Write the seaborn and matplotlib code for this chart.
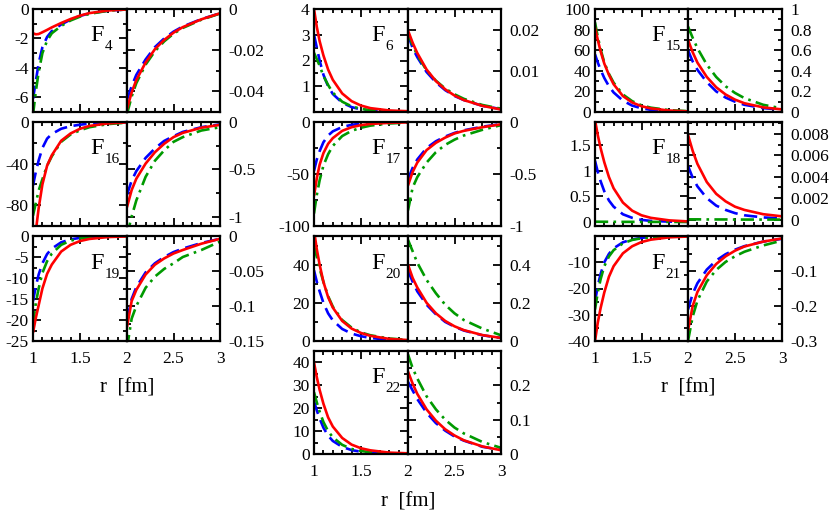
import numpy as np
import pandas as pd
import matplotlib
matplotlib.use('Agg')
import matplotlib.pyplot as plt
import seaborn as sns
from matplotlib.ticker import MultipleLocator, FixedLocator

sns.set_style('ticks')
plt.rcParams['font.family'] = ['Liberation Serif', 'DejaVu Serif']
for k in ['text.color', 'axes.labelcolor', 'xtick.color', 'ytick.color', 'axes.edgecolor']:
    plt.rcParams[k] = 'black'

# ---------------- data ----------------
r_left = [1.0, 1.03, 1.06, 1.1, 1.15, 1.2, 1.3, 1.4, 1.5, 1.6, 1.8, 2.0]
r_right = [2.0, 2.05, 2.1, 2.2, 2.3, 2.4, 2.5, 2.6, 2.8, 3.0]

# F4
f4_l_blue = [-6.1, -4.9, -3.7, -2.6, -1.9, -1.5, -1.05, -0.72, -0.47, -0.3, -0.11, -0.03]
f4_l_green = [-7.2, -5.6, -4.3, -3.0, -2.15, -1.65, -1.15, -0.78, -0.52, -0.33, -0.12, -0.03]
f4_l_red = [-1.65, -1.72, -1.70, -1.58, -1.42, -1.25, -0.95, -0.68, -0.45, -0.28, -0.1, -0.03]
f4_r_blue = [-0.044, -0.0375, -0.032, -0.0245, -0.0185, -0.0143, -0.011, -0.0085, -0.0049, -0.0021]
f4_r_green = [-0.051, -0.0425, -0.036, -0.027, -0.0205, -0.0157, -0.012, -0.0092, -0.0052, -0.0022]
f4_r_red = [-0.0485, -0.0405, -0.0345, -0.026, -0.0195, -0.015, -0.0115, -0.0088, -0.005, -0.0021]

# F16
f16_l_blue = [-61, -48, -37, -25, -16, -11.5, -6.5, -4, -2.6, -1.6, -0.6, -0.2]
f16_l_green = [-90, -78, -66, -55, -42, -33, -19, -12, -8, -5, -2, -0.6]
f16_l_red = [-125, -105, -83, -60, -42, -32, -18, -11, -6.5, -3.8, -1.3, -0.4]
f16_r_blue = [-0.77, -0.62, -0.52, -0.38, -0.28, -0.2, -0.15, -0.105, -0.055, -0.025]
f16_r_green = [-1.2, -1.0, -0.83, -0.58, -0.41, -0.3, -0.21, -0.16, -0.09, -0.055]
f16_r_red = [-0.9, -0.72, -0.6, -0.44, -0.32, -0.23, -0.16, -0.115, -0.06, -0.03]

# F19
f19_l_blue = [-15.5, -12, -9.2, -6.5, -4.3, -3.0, -1.5, -0.8, -0.45, -0.25, -0.08, -0.03]
f19_l_green = [-21, -16, -12.5, -8.8, -6, -4.2, -2.1, -1.1, -0.6, -0.35, -0.1, -0.04]
f19_l_red = [-23, -19.5, -16.5, -12.5, -9, -6.8, -3.7, -2.1, -1.2, -0.7, -0.25, -0.1]
f19_r_blue = [-0.12, -0.09, -0.073, -0.052, -0.039, -0.03, -0.023, -0.018, -0.01, -0.004]
f19_r_green = [-0.16, -0.118, -0.1, -0.074, -0.058, -0.047, -0.039, -0.03, -0.02, -0.008]
f19_r_red = [-0.13, -0.093, -0.077, -0.055, -0.041, -0.032, -0.025, -0.02, -0.011, -0.004]

# F6
f6_l_blue = [3.0, 2.5, 2.0, 1.45, 1.0, 0.7, 0.36, 0.19, 0.1, 0.06, 0.02, 0.01]
f6_l_green = [2.3, 2.05, 1.8, 1.4, 1.05, 0.75, 0.4, 0.22, 0.12, 0.07, 0.025, 0.01]
f6_l_red = [4.0, 3.3, 2.75, 2.2, 1.65, 1.25, 0.72, 0.42, 0.25, 0.15, 0.06, 0.03]
f6_r_blue = [0.0188, 0.0155, 0.0133, 0.0097, 0.0072, 0.0053, 0.0039, 0.0029, 0.0015, 0.0007]
f6_r_green = [0.0192, 0.0162, 0.0138, 0.0101, 0.0076, 0.0057, 0.0043, 0.0032, 0.0017, 0.0008]
f6_r_red = [0.0198, 0.0168, 0.0143, 0.0103, 0.0075, 0.0055, 0.004, 0.0029, 0.0015, 0.0006]

# F17
f17_l_blue = [-47, -36, -28, -19.5, -13, -9, -4.8, -2.7, -1.6, -1.0, -0.4, -0.2]
f17_l_green = [-88, -70, -56, -42, -31, -23, -13.5, -8.5, -5.5, -3.5, -1.4, -0.6]
f17_l_red = [-71, -54, -41, -30, -21, -15.5, -8.5, -5, -3, -1.9, -0.8, -0.4]
f17_r_blue = [-0.55, -0.44, -0.36, -0.25, -0.185, -0.14, -0.105, -0.08, -0.045, -0.02]
f17_r_green = [-0.85, -0.63, -0.53, -0.39, -0.29, -0.22, -0.17, -0.13, -0.075, -0.03]
f17_r_red = [-0.61, -0.48, -0.39, -0.27, -0.2, -0.15, -0.11, -0.085, -0.05, -0.022]

# F20
f20_l_blue = [37, 31, 26, 20, 14.5, 10.8, 6.3, 3.9, 2.5, 1.6, 0.6, 0.25]
f20_l_green = [50, 44, 38, 31, 23.5, 18, 11, 7, 4.5, 3, 1.3, 0.6]
f20_l_red = [58, 48, 40, 31, 23, 17.5, 10.5, 6.5, 4.2, 2.7, 1.1, 0.5]
f20_r_blue = [0.37, 0.31, 0.26, 0.19, 0.14, 0.1, 0.075, 0.055, 0.03, 0.016]
f20_r_green = [0.53, 0.47, 0.41, 0.32, 0.25, 0.19, 0.145, 0.11, 0.065, 0.03]
f20_r_red = [0.40, 0.33, 0.28, 0.2, 0.145, 0.105, 0.077, 0.057, 0.031, 0.016]

# F22
f22_l_blue = [23, 19, 15.5, 11.5, 8, 5.7, 3.1, 1.7, 1.0, 0.6, 0.2, 0.1]
f22_l_green = [27, 22.5, 18.5, 14, 10, 7.3, 4, 2.2, 1.3, 0.8, 0.3, 0.12]
f22_l_red = [40, 33.5, 28, 22, 16, 12, 7, 4.1, 2.5, 1.6, 0.6, 0.3]
f22_r_blue = [0.21, 0.185, 0.16, 0.12, 0.09, 0.068, 0.051, 0.039, 0.021, 0.012]
f22_r_green = [0.29, 0.25, 0.22, 0.168, 0.13, 0.1, 0.077, 0.06, 0.035, 0.018]
f22_r_red = [0.24, 0.205, 0.175, 0.13, 0.097, 0.072, 0.054, 0.04, 0.022, 0.011]

# F15
f15_l_blue = [56, 48, 41, 33, 25, 19, 11, 6.2, 3.6, 2.1, 0.8, 0.3]
f15_l_green = [87, 73, 61, 48, 37, 28.5, 17, 10.5, 6.5, 4.2, 1.8, 0.8]
f15_l_red = [82, 70, 59, 47, 36, 27, 15.5, 9.2, 5.6, 3.5, 1.4, 0.6]
f15_r_blue = [0.60, 0.49, 0.41, 0.29, 0.2, 0.14, 0.1, 0.07, 0.038, 0.022]
f15_r_green = [0.83, 0.72, 0.62, 0.46, 0.34, 0.25, 0.185, 0.135, 0.07, 0.035]
f15_r_red = [0.70, 0.58, 0.48, 0.34, 0.24, 0.17, 0.12, 0.085, 0.045, 0.025]

# F18
f18_l_blue = [1.2, 0.98, 0.8, 0.6, 0.42, 0.3, 0.15, 0.08, 0.04, 0.02, 0.006, 0.002]
f18_l_green = [0.004, 0.004, 0.003, 0.003, 0.002, 0.002, 0.001, 0.001, 0.0, 0.0, 0.0, 0.0]
f18_l_red = [2.0, 1.7, 1.45, 1.17, 0.88, 0.66, 0.38, 0.22, 0.13, 0.08, 0.03, 0.01]
f18_r_blue = [0.0050, 0.0039, 0.0031, 0.002, 0.0013, 0.0009, 0.0006, 0.0004, 0.0002, 0.0001]
f18_r_green = [0.00002, 0.00002, 0.00002, 0.00001, 0.00001, 0.00001, 0.0, 0.0, 0.0, 0.0]
f18_r_red = [0.0079, 0.0064, 0.0052, 0.0035, 0.0024, 0.0017, 0.0012, 0.0009, 0.0005, 0.0003]

# F21
f21_l_blue = [-25, -19, -14.5, -10, -6.8, -4.7, -2.4, -1.3, -0.7, -0.4, -0.12, -0.04]
f21_l_green = [-28, -21.5, -16.5, -11.5, -7.8, -5.4, -2.8, -1.5, -0.85, -0.5, -0.15, -0.05]
f21_l_red = [-40, -33, -27.5, -21.5, -15.5, -11.5, -6.6, -3.9, -2.3, -1.4, -0.5, -0.2]
f21_r_blue = [-0.21, -0.165, -0.135, -0.096, -0.07, -0.052, -0.039, -0.029, -0.016, -0.008]
f21_r_green = [-0.3, -0.23, -0.185, -0.13, -0.097, -0.074, -0.058, -0.045, -0.027, -0.013]
f21_r_red = [-0.27, -0.2, -0.16, -0.112, -0.08, -0.058, -0.042, -0.03, -0.016, -0.007]

# axis tick labels per panel
f4_l_ticks = ['0', '-2', '-4', '-6'];       f4_r_ticks = ['0', '-0.02', '-0.04']
f16_l_ticks = ['0', '-40', '-80'];          f16_r_ticks = ['0', '-0.5', '-1']
f19_l_ticks = ['0', '-5', '-10', '-15', '-20', '-25']; f19_r_ticks = ['0', '-0.05', '-0.1', '-0.15']
f6_l_ticks = ['1', '2', '3', '4'];          f6_r_ticks = ['0.01', '0.02']
f17_l_ticks = ['0', '-50', '-100'];         f17_r_ticks = ['0', '-0.5', '-1']
f20_l_ticks = ['0', '20', '40'];            f20_r_ticks = ['0', '0.2', '0.4']
f22_l_ticks = ['0', '10', '20', '30', '40']; f22_r_ticks = ['0', '0.1', '0.2']
f15_l_ticks = ['0', '20', '40', '60', '80', '100']; f15_r_ticks = ['0', '0.2', '0.4', '0.6', '0.8', '1']
f18_l_ticks = ['0', '0.5', '1', '1.5'];     f18_r_ticks = ['0', '0.002', '0.004', '0.006', '0.008']
f21_l_ticks = ['-10', '-20', '-30', '-40']; f21_r_ticks = ['-0.1', '-0.2', '-0.3']

x_left_ticks = ['1', '1.5']
x_right_ticks = ['2', '2.5', '3']

# ---------------- layout (pixel geometry) ----------------
W, H = 830, 513
col_x = [(33, 127, 220), (314, 408, 501), (595, 688, 782)]
row_y = [(9, 112), (122, 226), (236, 341), (351, 454)]

panels = [
    ('4', 0, 0, (f4_l_blue, f4_l_green, f4_l_red), (f4_r_blue, f4_r_green, f4_r_red),
     (-7, 0), f4_l_ticks, 1, (-0.05, 0), f4_r_ticks, 0.01),
    ('16', 0, 1, (f16_l_blue, f16_l_green, f16_l_red), (f16_r_blue, f16_r_green, f16_r_red),
     (-100, 0), f16_l_ticks, 20, (-1.1, 0), f16_r_ticks, 0.25),
    ('19', 0, 2, (f19_l_blue, f19_l_green, f19_l_red), (f19_r_blue, f19_r_green, f19_r_red),
     (-25, 0), f19_l_ticks, 2.5, (-0.15, 0), f19_r_ticks, 0.025),
    ('6', 1, 0, (f6_l_blue, f6_l_green, f6_l_red), (f6_r_blue, f6_r_green, f6_r_red),
     (0, 4), f6_l_ticks, 0.5, (0, 0.025), f6_r_ticks, 0.005),
    ('17', 1, 1, (f17_l_blue, f17_l_green, f17_l_red), (f17_r_blue, f17_r_green, f17_r_red),
     (-100, 0), f17_l_ticks, 25, (-1, 0), f17_r_ticks, 0.25),
    ('20', 1, 2, (f20_l_blue, f20_l_green, f20_l_red), (f20_r_blue, f20_r_green, f20_r_red),
     (0, 55), f20_l_ticks, 10, (0, 0.55), f20_r_ticks, 0.1),
    ('22', 1, 3, (f22_l_blue, f22_l_green, f22_l_red), (f22_r_blue, f22_r_green, f22_r_red),
     (0, 45), f22_l_ticks, 5, (0, 0.3), f22_r_ticks, 0.05),
    ('15', 2, 0, (f15_l_blue, f15_l_green, f15_l_red), (f15_r_blue, f15_r_green, f15_r_red),
     (0, 100), f15_l_ticks, 10, (0, 1), f15_r_ticks, 0.1),
    ('18', 2, 1, (f18_l_blue, f18_l_green, f18_l_red), (f18_r_blue, f18_r_green, f18_r_red),
     (-0.08, 1.96), f18_l_ticks, 0.25, (-0.0006, 0.0091), f18_r_ticks, 0.001),
    ('21', 2, 2, (f21_l_blue, f21_l_green, f21_l_red), (f21_r_blue, f21_r_green, f21_r_red),
     (-40, 0), f21_l_ticks, 5, (-0.3, 0), f21_r_ticks, 0.05),
]
bottom_rows = {0: 2, 1: 3, 2: 2}

colors = ['#0000ff', '#009a00', '#ff0000']
styles = [(0, (5, 2.5)), (0, (5, 2, 1, 2)), '-']

fig = plt.figure(figsize=(W / 100, H / 100), dpi=100)


def style_axis(ax, xlim, xmaj, ylim, ylabels, yminor, side, show_x, xlabels):
    ax.set_xlim(*xlim)
    ax.set_ylim(*ylim)
    ax.xaxis.set_major_locator(FixedLocator(xmaj))
    ax.xaxis.set_minor_locator(MultipleLocator(0.1))
    yvals = [float(t) for t in ylabels]
    ax.yaxis.set_major_locator(FixedLocator(yvals))
    ax.yaxis.set_minor_locator(MultipleLocator(yminor))
    ax.set_yticklabels(ylabels)
    ax.tick_params(which='both', direction='in', top=True, bottom=True,
                   left=True, right=True, width=1.3, colors='black',
                   labelsize=12.5)
    ax.tick_params(which='major', length=6)
    ax.tick_params(which='minor', length=3)
    if side == 'left':
        ax.tick_params(axis='y', labelleft=True, labelright=False, pad=3)
    else:
        ax.tick_params(axis='y', labelleft=False, labelright=True, pad=6)
    if show_x:
        ax.set_xticklabels(xlabels + [''] * (len(xmaj) - len(xlabels)))
        ax.tick_params(axis='x', labelbottom=True, pad=7)
    else:
        ax.tick_params(axis='x', labelbottom=False)
    for sp in ax.spines.values():
        sp.set_linewidth(1.6)
        sp.set_color('black')
    ax.set_xlabel('')
    ax.set_ylabel('')


for name, col, row, ldata, rdata, lylim, lticks, lminor, rylim, rticks, rminor in panels:
    x0, xm, x1 = col_x[col]
    yt, yb = row_y[row]
    axL = fig.add_axes([x0 / W, 1 - yb / H, (xm - x0) / W, (yb - yt) / H])
    axR = fig.add_axes([xm / W, 1 - yb / H, (x1 - xm) / W, (yb - yt) / H])
    for ax, rr, data in ((axL, r_left, ldata), (axR, r_right, rdata)):
        for vals, c, ls in zip(data, colors, styles):
            df = pd.DataFrame({'r': rr, 'F': vals})
            sns.lineplot(data=df, x='r', y='F', ax=ax, color=c, linestyle=ls,
                         linewidth=1.9, estimator=None, sort=False)
    show_x = bottom_rows[col] == row
    style_axis(axL, (1, 2), [1, 1.5, 2], lylim, lticks, lminor, 'left', show_x, x_left_ticks)
    style_axis(axR, (2, 3), [2, 2.5, 3], rylim, rticks, rminor, 'right', show_x, x_right_ticks)
    axL.text(0.61, 0.69, 'F', transform=axL.transAxes,
             fontsize=17.5, va='baseline', ha='left', color='black')
    axL.annotate(name, xy=(0.61, 0.69), xycoords='axes fraction',
                 xytext=(14, -9), textcoords='offset pixels',
                 fontsize=11, va='baseline', ha='left', color='black')

# x-axis titles
fig.text(127 / W, 1 - 388 / H, 'r  [fm]', ha='center', va='center', fontsize=15)
fig.text(408 / W, 1 - 502 / H, 'r  [fm]', ha='center', va='center', fontsize=15)
fig.text(688 / W, 1 - 388 / H, 'r  [fm]', ha='center', va='center', fontsize=15)

fig.savefig('out.png', dpi=100, facecolor='white')
